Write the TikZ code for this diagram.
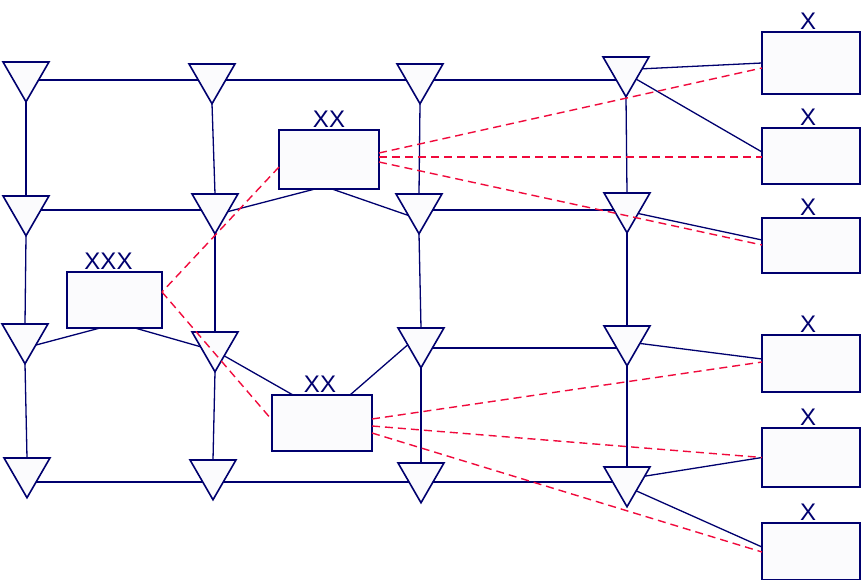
\documentclass[tikz,border=0pt]{standalone}
\usepackage{fontspec}
\setmainfont{Liberation Sans}
\usetikzlibrary{shapes.geometric,backgrounds}
\definecolor{navyline}{RGB}{0,0,110}
\definecolor{reddash}{RGB}{240,10,60}
\definecolor{paper}{RGB}{251,251,253}

\begin{document}
\begin{tikzpicture}[
  x=1pt, y=-1pt,
  tri/.style={regular polygon, regular polygon sides=3, shape border rotate=180,
              draw=navyline, fill=paper, line width=1.6pt, minimum size=53pt,
              inner sep=0pt, outer sep=0pt, anchor=north},
  box/.style={draw=navyline, fill=paper, line width=1.2pt, minimum width=98pt,
              inner sep=0pt, outer sep=0pt},
  lbl/.style={font=\fontsize{24}{24}\selectfont, text=navyline, inner sep=0pt},
  wire/.style={draw=navyline, line width=1.3pt},
  link/.style={draw=navyline, line width=1.8pt},
  bus/.style={draw=navyline, line width=2.6pt},
  rim/.style={draw=navyline, line width=2.6pt},
  dashline/.style={draw=reddash, line width=1.4pt, dash pattern=on 8pt off 5pt},
]
  \useasboundingbox (0,0) rectangle (862,580);

  % triangles, row by row
  \node[tri] (T11) at (26,62)  {};
  \node[tri] (T12) at (212,64) {};
  \node[tri] (T13) at (420,64) {};
  \node[tri] (T14) at (626,57) {};
  \node[tri] (T21) at (26,196)  {};
  \node[tri] (T22) at (215,194) {};
  \node[tri] (T23) at (419,194) {};
  \node[tri] (T24) at (627,193) {};
  \node[tri] (T31) at (25,324)  {};
  \node[tri] (T32) at (215,332) {};
  \node[tri] (T33) at (421,328) {};
  \node[tri] (T34) at (627,326) {};
  \node[tri] (T41) at (27,458)  {};
  \node[tri] (T42) at (213,460) {};
  \node[tri] (T43) at (421,463) {};
  \node[tri] (T44) at (627,467) {};

  % boxes
  \node[box, minimum width=100pt, minimum height=59pt,
        label={[lbl, label distance=2.5pt]above:XX}] (B1) at (329,159.5) {};
  \node[box, minimum width=95pt, minimum height=56pt,
        label={[lbl, label distance=2.5pt, xshift=-6pt]above:XXX}] (B0) at (114.5,300) {};
  \node[box, minimum width=100pt, minimum height=56pt,
        label={[lbl, label distance=2.5pt, xshift=-2pt]above:XX}] (B2) at (322,423) {};
  \foreach \n/\y/\h in {1/63/62, 2/156/56, 3/245.5/55, 4/363.5/57, 5/457.5/59, 6/551.5/57}
    \node[box, minimum height=\h pt,
          label={[lbl, label distance=2.5pt, xshift=-3pt]above:X}] (X\n) at (811,\y) {};
  \foreach \b in {B0,B1,B2,X1,X2,X3,X4,X5,X6}
    \draw[rim] (\b.north west) -- (\b.north east) (\b.south west) -- (\b.south east);

  \coordinate (h1) at (0,80);
  \coordinate (h2) at (0,210);
  \coordinate (h3) at (0,348);
  \coordinate (h4) at (0,482);

  \begin{scope}[on background layer]
    \draw[link] (T11 |- h1) -- (T12 |- h1);
    \draw[bus]  (T12 |- h1) -- (T13 |- h1);
    \draw[link] (T13 |- h1) -- (T14 |- h1);
    \draw[bus]  (T21 |- h2) -- (T22 |- h2);
    \draw[bus]  (T23 |- h2) -- (T24 |- h2);
    \draw[bus]  (T33 |- h3) -- (T34 |- h3);
    \draw[bus]  (T41 |- h4) -- (T44 |- h4);
    \foreach \c in {1,...,4} {
      \draw[wire] (T1\c.south) -- (T2\c.north);
      \draw[wire] (T2\c.south) -- (T3\c.north);
      \draw[wire] (T3\c.south) -- (T4\c.north);
    }
  \end{scope}

  \draw[wire] ([xshift=-14pt]B1.south) -- (T22.-19);
  \draw[wire] ([xshift=3pt]B1.south) -- (T23.218);
  \draw[wire] ([xshift=-14.5pt]B0.south) -- (T31.-36);
  \draw[wire] ([xshift=20.5pt]B0.south) -- (T32.186);
  \draw[wire] ([xshift=-29pt]B2.north) -- (T32.-49);
  \draw[wire] ([xshift=28pt]B2.north) -- (T33.195);
  \draw[wire] (T14.5) -- (X1.west);
  \draw[wire] (T14.-41) -- ([yshift=4pt]X2.west);
  \draw[wire] (T24.-33) -- ([yshift=5.5pt]X3.west);
  \draw[wire] (T34.-18) -- ([yshift=4.5pt]X4.west);
  \draw[wire] (T44.13) -- (X5.west);
  \draw[wire] (T44.-49) -- ([yshift=4.5pt]X6.west);

  \draw[dashline] ([yshift=6.5pt]B1.east) -- ([yshift=-5pt]X1.west);
  \draw[dashline] ([yshift=2.5pt]B1.east) -- ([yshift=-1pt]X2.west);
  \draw[dashline] ([yshift=-2.5pt]B1.east) -- ([yshift=0.5pt]X3.west);
  \draw[dashline] ([yshift=-7.5pt]B1.west) -- ([yshift=8pt]B0.east);
  \draw[dashline] ([yshift=8pt]B0.east) -- ([yshift=3pt]B2.west);
  \draw[dashline] ([yshift=4pt]B2.east) -- ([yshift=1.5pt]X4.west);
  \draw[dashline] ([yshift=-3pt]B2.east) -- (X5.west);
  \draw[dashline] ([yshift=-10pt]B2.east) -- ([yshift=-0.5pt]X6.west);
\end{tikzpicture}
\end{document}
